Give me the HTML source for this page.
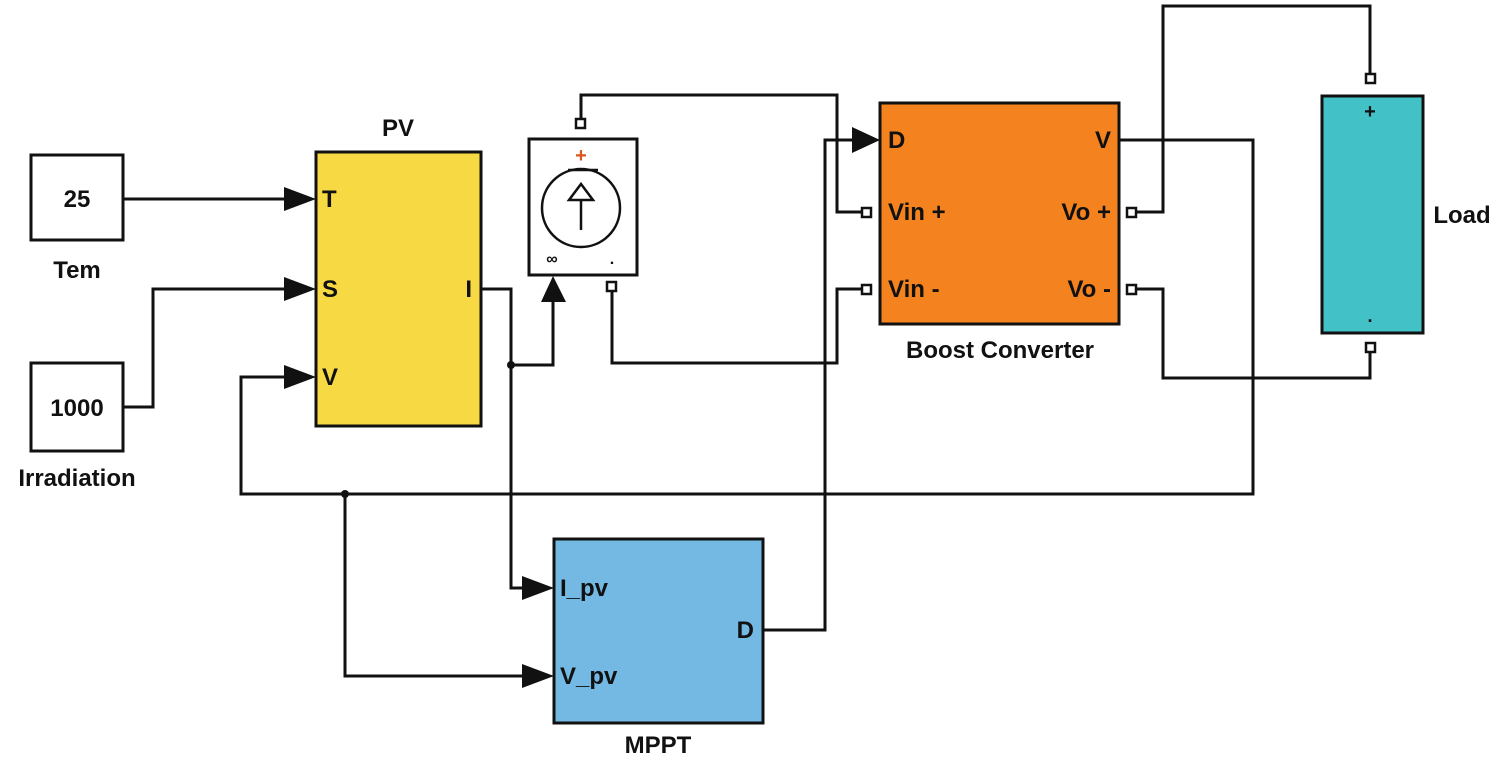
<!DOCTYPE html>
<html><head><meta charset="utf-8"><style>
html,body{margin:0;padding:0;background:#fff;width:1504px;height:763px;overflow:hidden}
text{font-family:"Liberation Sans",Arial,sans-serif;font-size:24px;font-weight:bold;fill:#111}
</style></head><body>
<svg width="1504" height="763" viewBox="0 0 1504 763" xmlns="http://www.w3.org/2000/svg">
<g fill="none" stroke="#111" stroke-width="3">
<polyline points="123,199 300,199"/>
<polyline points="123,407 153,407 153,289 300,289"/>
<polyline points="481,289 511,289 511,588 538,588"/>
<polyline points="511,365 553,365 553,290"/>
<polyline points="1119,140 1253,140 1253,494 241,494 241,377 300,377"/>
<polyline points="345,494 345,676 538,676"/>
<polyline points="763,630 825,630 825,140 864,140"/>
<polyline points="581,122 581,95 837,95 837,212 866,212"/>
<polyline points="612,290 612,363 837,363 837,289 866,289"/>
<polyline points="1133,212 1163,212 1163,6 1370,6 1370,74"/>
<polyline points="1133,289 1163,289 1163,378 1370,378 1370,350"/>
</g>
<g fill="#111">
<circle cx="511" cy="365" r="4"/><circle cx="345" cy="494" r="4"/>
<polygon points="284,187 316,199 284,211"/>
<polygon points="284,277 316,289 284,301"/>
<polygon points="284,365 316,377 284,389"/>
<polygon points="522,576 554,588 522,600"/>
<polygon points="522,664 554,676 522,688"/>
<polygon points="852,127 880,140 852,153"/>
<polygon points="541,302 553,276 566,302"/>
</g>
<g fill="#fff" stroke="#111" stroke-width="2.5">
<rect x="576" y="119" width="9" height="9"/>
<rect x="607" y="282" width="9" height="9"/>
<rect x="862" y="208" width="9" height="9"/>
<rect x="862" y="285" width="9" height="9"/>
<rect x="1127" y="208" width="9" height="9"/>
<rect x="1127" y="285" width="9" height="9"/>
<rect x="1366" y="74" width="9" height="9"/>
<rect x="1366" y="343" width="9" height="9"/>
</g>
<g stroke="#111" stroke-width="3">
<rect x="31" y="155" width="92" height="85" fill="#fff"/>
<rect x="31" y="363" width="92" height="88" fill="#fff"/>
<rect x="316" y="152" width="165" height="274" fill="#f7d943"/>
<rect x="529" y="139" width="108" height="136" fill="#fff"/>
<rect x="880" y="103" width="239" height="221" fill="#f4831f"/>
<rect x="1322" y="96" width="101" height="237" fill="#42c1c7"/>
<rect x="554" y="539" width="209" height="184" fill="#74b9e4"/>
</g>
<circle cx="581" cy="208" r="39" fill="none" stroke="#111" stroke-width="2.5"/>
<line x1="568" y1="170" x2="598" y2="170" stroke="#111" stroke-width="2.5"/>
<line x1="581" y1="230" x2="581" y2="200" stroke="#111" stroke-width="2.5"/>
<polygon points="569,200 581,184 593,200" fill="#fff" stroke="#111" stroke-width="2.5"/>
<text x="581" y="162" text-anchor="middle" style="fill:#d9541e;font-size:20px">+</text>
<text x="552" y="264" text-anchor="middle" style="font-size:16px">∞</text>
<text x="612" y="264" text-anchor="middle" style="font-size:16px">.</text>
<text x="77" y="207" text-anchor="middle">25</text>
<text x="77" y="278" text-anchor="middle">Tem</text>
<text x="77" y="416" text-anchor="middle">1000</text>
<text x="77" y="486" text-anchor="middle">Irradiation</text>
<text x="398" y="136" text-anchor="middle">PV</text>
<text x="322" y="207">T</text>
<text x="322" y="297">S</text>
<text x="322" y="385">V</text>
<text x="472" y="297" text-anchor="end">I</text>
<text x="888" y="148">D</text>
<text x="888" y="220">Vin +</text>
<text x="888" y="297">Vin -</text>
<text x="1111" y="148" text-anchor="end">V</text>
<text x="1111" y="220" text-anchor="end">Vo +</text>
<text x="1111" y="297" text-anchor="end">Vo -</text>
<text x="1000" y="358" text-anchor="middle">Boost Converter</text>
<text x="1370" y="118" text-anchor="middle" style="font-size:20px">+</text>
<text x="1370" y="322" text-anchor="middle" style="font-size:18px">.</text>
<text x="1462" y="223" text-anchor="middle">Load</text>
<text x="560" y="596">I_pv</text>
<text x="560" y="684">V_pv</text>
<text x="754" y="638" text-anchor="end">D</text>
<text x="658" y="753" text-anchor="middle">MPPT</text>
</svg>
</body></html>
